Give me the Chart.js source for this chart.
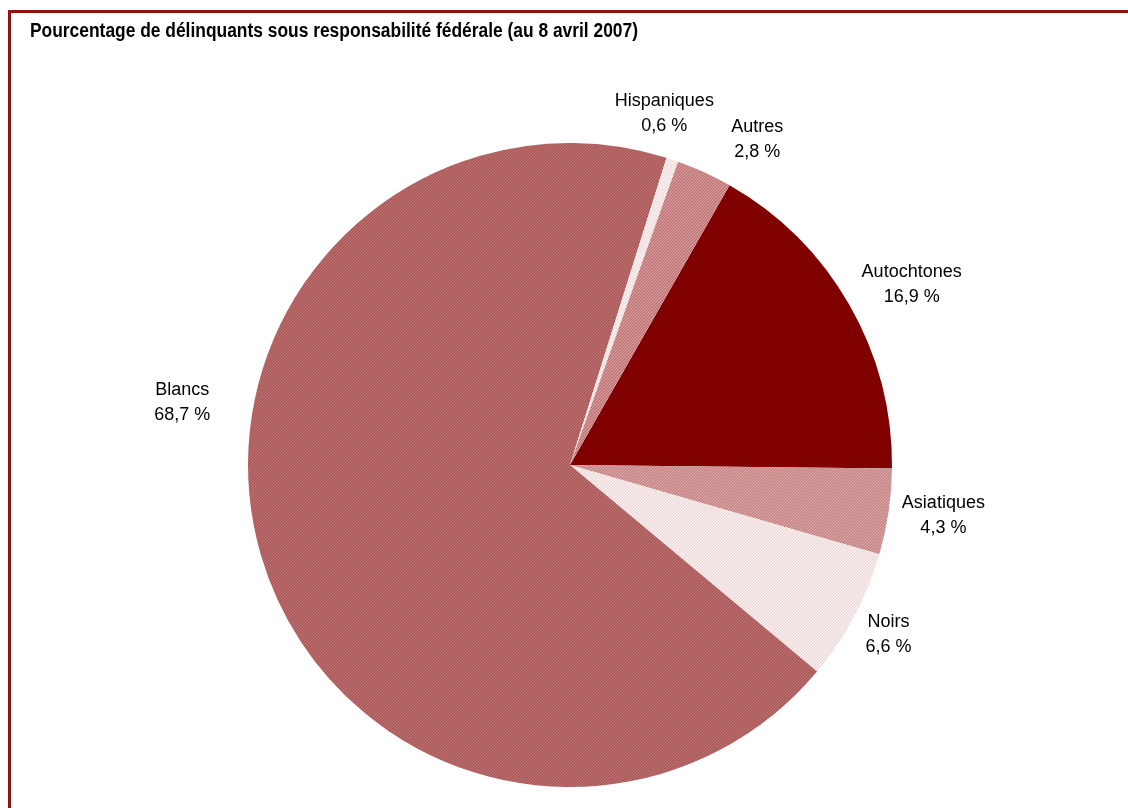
<!DOCTYPE html>
<html>
<head>
<meta charset="utf-8">
<script src="https://cdn.jsdelivr.net/npm/chart.js@4"></script>
<style>
html,body{margin:0;padding:0;background:#fff;}
#wrap{position:relative;width:1128px;height:808px;}
</style>
</head>
<body>
<div id="wrap"><canvas id="c" width="1128" height="808"></canvas></div>
<script>
// ---- data ----
const categories = ["Autochtones", "Asiatiques", "Noirs", "Blancs", "Hispaniques", "Autres"];
const values = [16.9, 4.3, 6.6, 68.7, 0.6, 2.8];
const valueLabels = ["16,9 %", "4,3 %", "6,6 %", "68,7 %", "0,6 %", "2,8 %"];
const title = "Pourcentage de délinquants sous responsabilité fédérale (au 8 avril 2007)";

// ---- styles ----
function makePattern(base, dot) {
  const p = document.createElement('canvas');
  p.width = 3; p.height = 3;
  const g = p.getContext('2d');
  g.fillStyle = base; g.fillRect(0, 0, 3, 3);
  g.fillStyle = dot; g.fillRect(0, 0, 1, 1); g.fillRect(2, 1, 1, 1); g.fillRect(1, 2, 1, 1);
  return g.createPattern(p, 'repeat');
}
const ctx0 = document.getElementById('c').getContext('2d');
const sliceColors = [
  '#800000',
  makePattern('#c78585', '#dcb0b0'),
  makePattern('#f8eded', '#ecd2d2'),
  makePattern('#ad5a5a', '#bd7474'),
  makePattern('#f9eeee', '#eed8d8'),
  makePattern('#c27878', '#d8a4a4')
];
// label placement: angle adjust (deg) and radius factor
const labelAngleAdj = [2, -0.7, 0, 25.5, -3.5, 5.3];
const labelRadius = [1.20, 1.17, 1.12, 1.22, 1.13, 1.165];

const framePlugin = {
  id: 'frame',
  beforeDraw(chart) {
    const c = chart.ctx;
    c.save();
    c.fillStyle = '#fff';
    c.fillRect(0, 0, chart.width, chart.height);
    c.fillStyle = '#8b1414';
    c.fillRect(8, 10, chart.width - 8, 3);
    c.fillRect(8, 10, 3, chart.height - 10);
    c.fillStyle = '#000';
    c.font = 'bold 20px "Liberation Sans Narrow", "Arial Narrow", "Liberation Sans", sans-serif';
    c.textBaseline = 'middle';
    c.textAlign = 'left';
    const w = c.measureText(title).width;
    const target = 608;
    c.translate(30, 31);
    c.scale(target / w, 1);
    c.fillText(title, 0, 0);
    c.restore();
  }
};

const labelPlugin = {
  id: 'sliceLabels',
  afterDatasetsDraw(chart) {
    const c = chart.ctx;
    const meta = chart.getDatasetMeta(0);
    c.save();
    c.fillStyle = '#000';
    c.font = '18px "Liberation Sans", Arial, sans-serif';
    c.textAlign = 'center';
    c.textBaseline = 'middle';
    meta.data.forEach((arc, i) => {
      const p = arc.getProps(['x', 'y', 'startAngle', 'endAngle', 'outerRadius'], true);
      const mid = (p.startAngle + p.endAngle) / 2 + labelAngleAdj[i] * Math.PI / 180;
      const r = p.outerRadius * labelRadius[i];
      const x = p.x + Math.cos(mid) * r;
      const y = p.y + Math.sin(mid) * r;
      c.fillText(categories[i], x, y - 12.5);
      c.fillText(valueLabels[i], x, y + 12.5);
    });
    c.restore();
  }
};

new Chart(ctx0, {
  type: 'pie',
  data: {
    labels: categories,
    datasets: [{
      data: values,
      backgroundColor: sliceColors,
      borderWidth: 0
    }]
  },
  options: {
    responsive: false,
    animation: false,
    rotation: 29.7,
    layout: { padding: { top: 143, bottom: 21, left: 248, right: 236 } },
    plugins: {
      legend: { display: false },
      tooltip: { enabled: false },
      title: { display: false }
    }
  },
  plugins: [framePlugin, labelPlugin]
});
</script>
</body>
</html>
